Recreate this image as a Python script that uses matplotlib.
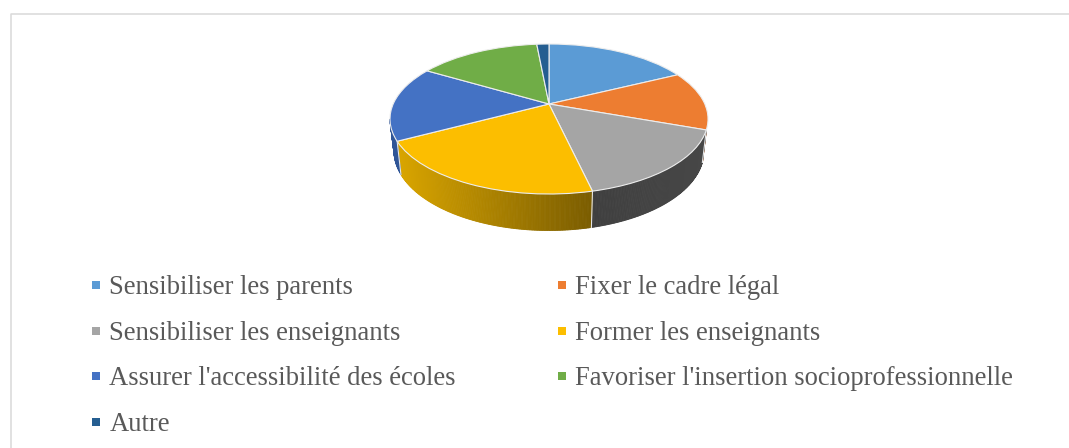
import numpy as np
import matplotlib
matplotlib.use("Agg")
import matplotlib.pyplot as plt
from matplotlib.lines import Line2D
from matplotlib.path import Path
from matplotlib.transforms import Transform
from matplotlib.colors import to_rgb

categories = ["Sensibiliser les parents", "Fixer le cadre légal", "Sensibiliser les enseignants",
              "Former les enseignants", "Assurer l'accessibilité des écoles",
              "Favoriser l'insertion socioprofessionnelle", "Autre"]
values = [17.7, 12.7, 15.9, 20.8, 16.2, 15.0, 1.5]
colors = ["#5B9BD5", "#ED7D31", "#A5A5A5", "#FCBE00", "#4472C4", "#70AD47", "#255E91"]
side_left = ["#3A6A96", "#8F4A1E", "#3F3F3F", "#D9A500", "#2F5597", "#43682B", "#163A5A"]
side_right = ["#3A6A96", "#8F4A1E", "#474747", "#7A5C00", "#2F5597", "#43682B", "#163A5A"]

CX, CY, S, B, K = 549.0, 104.0, 155.8, 72.0, 0.2


def project(x, y):
    w = 1 + K * y
    return CX + S * x / w, CY - B * y / w


class Perspective(Transform):
    input_dims = output_dims = 2

    def transform_non_affine(self, pts):
        pts = np.asarray(pts, float)
        return np.column_stack(project(pts[:, 0], pts[:, 1]))

    def transform_path_non_affine(self, path):
        return Path(self.transform_non_affine(path.vertices), path.codes)


fig = plt.figure(figsize=(10.69, 4.48), dpi=100, facecolor="white")
ax = fig.add_axes([0, 0, 1, 1])
wedges, _ = ax.pie(values, colors=colors, startangle=90, counterclock=False,
                   wedgeprops=dict(edgecolor="#EDEDED", linewidth=0.8, zorder=5))
ax.set_aspect("auto")
ax.set_xlim(0, 1069)
ax.set_ylim(448, 0)
ax.axis("off")
tr = Perspective() + ax.transData
for w in wedges:
    w.set_transform(tr)
    w.set_clip_on(False)

# Side wall of the pie: visible front arc only
edges = np.concatenate([[0], np.cumsum(values)]) / np.sum(values) * 360
A0, A1 = 109.0, 258.5
for i in range(len(values)):
    a, b = max(edges[i], A0), min(edges[i + 1], A1)
    if b <= a:
        continue
    n = int((b - a) * 2) + 2
    th = np.radians(np.linspace(a, b, n))
    px, py = project(np.sin(th), np.cos(th))
    bx = CX + (px - CX) * 0.975
    by = py + 30.5 - 6 * np.cos(th)
    c0, c1 = np.array(to_rgb(side_left[i])), np.array(to_rgb(side_right[i]))
    x_l, x_r = px.min(), px.max()
    for j in range(n - 1):
        xm = 0.5 * (px[j] + px[j + 1])
        f = (xm - x_l) / max(x_r - x_l, 1)
        col = c0 + (c1 - c0) * f
        ax.fill([px[j], px[j + 1], bx[j + 1], bx[j]], [py[j], py[j + 1], by[j + 1], by[j]],
                color=col, lw=0.6, zorder=2)
    if a == edges[i]:
        ax.plot([px[0], bx[0]], [py[0], by[0]], color="#E6E6E6", lw=0.8, zorder=3)

# Chart frame (only the top and left edges are inside the crop)
ax.plot([10.5, 10.5, 1069], [448, 14.5, 14.5], color="#D9D9D9", lw=1.1, clip_on=False, zorder=1)

order = [0, 2, 4, 6, 1, 3, 5]
handles = [Line2D([], [], ls="", marker="s", ms=5.8, mfc=colors[i], mec=colors[i], mew=0)
           for i in order]
leg = ax.legend(handles, [categories[i] for i in order], ncol=2, loc="upper left",
                bbox_to_anchor=(88, 275.5), bbox_transform=ax.transData, frameon=False,
                prop={"family": "Liberation Serif", "size": 19.15}, labelcolor="#595959",
                borderpad=0, borderaxespad=0, handlelength=0.6, handletextpad=0.2,
                labelspacing=0.77, columnspacing=3.68)

fig.savefig("out.png", dpi=100, facecolor="white")
